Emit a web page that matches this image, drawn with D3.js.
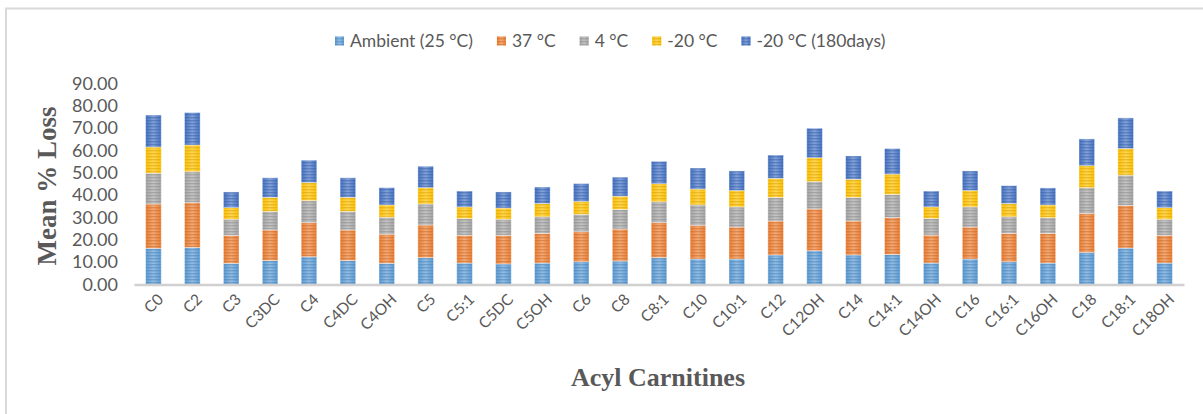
<!DOCTYPE html>
<html>
<head>
<meta charset="utf-8">
<script src="https://cdn.jsdelivr.net/npm/d3@7"></script>
<style>
  html, body { margin: 0; padding: 0; background: #fff; }
  svg { display: block; }
</style>
</head>
<body>
<svg id="chart" width="1203" height="414"></svg>
<script>
// Acyl carnitine names along the x axis
const categories = ["C0","C2","C3","C3DC","C4","C4DC","C4OH","C5","C5:1","C5DC","C5OH","C6","C8",
  "C8:1","C10","C10:1","C12","C12OH","C14","C14:1","C14OH","C16","C16:1","C16OH","C18","C18:1","C18OH"];

// Mean % loss for each storage condition (stacked)
const ambient25 = [16.2,16.6,9.5,10.7,12.4,10.7,9.5,12.0,9.6,9.2,9.6,10.2,10.5,
  12.0,11.4,11.4,13.2,15.1,13.2,13.4,9.6,11.4,10.2,9.6,14.4,16.3,9.6];
const warm37 = [19.8,20.0,12.5,13.7,15.3,13.7,13.0,14.6,12.4,12.8,13.3,13.4,14.3,
  15.7,15.1,14.3,15.2,18.7,15.2,16.5,12.5,14.3,12.7,13.3,17.4,19.1,12.4];
const cold4 = [13.8,13.9,7.2,8.3,9.8,8.3,7.6,9.4,7.5,7.2,7.4,7.8,8.8,
  9.3,9.1,9.0,10.6,12.2,10.6,10.4,7.4,9.0,7.4,7.0,11.5,13.5,7.2];
const frozen20 = [11.7,11.9,5.2,6.3,8.1,6.3,5.5,7.3,5.2,5.0,5.9,5.8,5.9,
  8.1,7.1,7.3,8.5,10.7,8.1,9.1,5.2,7.3,5.9,5.7,9.9,11.9,5.2];
const frozen20d180 = [14.3,14.5,7.0,8.7,10.0,8.7,7.7,9.6,7.1,7.2,7.4,7.9,8.5,
  10.0,9.4,8.8,10.4,13.2,10.4,11.4,7.1,8.8,8.0,7.6,11.9,13.7,7.4];

const seriesNames = ["Ambient (25 °C)","37 °C","4 °C","-20 °C","-20 °C (180days)"];
const seriesValues = [ambient25, warm37, cold4, frozen20, frozen20d180];
const seriesColors = ["#5B9BD5","#ED7D31","#A5A5A5","#FFC000","#4472C4"];

const yTicks = [0,10,20,30,40,50,60,70,80,90];

const svg = d3.select("#chart");
const W = 1203, H = 414;
const textGray = "#595959";

// Outer chart frame (top and left edges visible)
svg.append("path")
  .attr("d", `M6,${H} L6,8.5 L${W},8.5`)
  .attr("fill", "none").attr("stroke", "#d9d9d9").attr("stroke-width", 2);

// Striped fills: horizontal sheen gradient plus fine horizontal banding
const defs = svg.append("defs");
seriesColors.forEach((c, i) => {
  const base = d3.color(c);
  const light = d3.interpolateRgb(c, "#ffffff")(0.35);
  const g = defs.append("linearGradient").attr("id", "grad" + i)
    .attr("x1", "0%").attr("x2", "100%").attr("y1", "0%").attr("y2", "0%");
  g.append("stop").attr("offset", "0%").attr("stop-color", base.formatHex());
  g.append("stop").attr("offset", "50%").attr("stop-color", light);
  g.append("stop").attr("offset", "100%").attr("stop-color", base.formatHex());
  const p = defs.append("pattern").attr("id", "stripe" + i)
    .attr("patternUnits", "userSpaceOnUse").attr("width", 8).attr("height", 3);
  p.append("rect").attr("x", 0).attr("y", 0).attr("width", 8).attr("height", 1.4)
    .attr("fill", base.darker(0.5).formatHex()).attr("opacity", 0.5);
});

const x = d3.scaleBand().domain(categories).range([134, 1184])
  .paddingInner(0.6).paddingOuter(0.3);
const y = d3.scaleLinear().domain([0, 90]).range([284.5, 83.3]);

// Stack the five series per category
const rows = categories.map((c, i) => {
  const r = { cat: c };
  seriesNames.forEach((s, k) => r[s] = seriesValues[k][i]);
  return r;
});
const stacked = d3.stack().keys(seriesNames)(rows);

const layers = svg.append("g").selectAll("g").data(stacked).join("g");
layers.each(function(layer, k) {
  const g = d3.select(this);
  const segs = g.selectAll("g.seg").data(layer).join("g").attr("class", "seg");
  segs.append("rect")
    .attr("x", d => x(d.data.cat)).attr("width", x.bandwidth())
    .attr("y", d => y(d[1])).attr("height", d => y(d[0]) - y(d[1]))
    .attr("fill", `url(#grad${k})`);
  segs.append("rect")
    .attr("x", d => x(d.data.cat)).attr("width", x.bandwidth())
    .attr("y", d => y(d[1])).attr("height", d => y(d[0]) - y(d[1]))
    .attr("fill", `url(#stripe${k})`)
    .attr("stroke", "#ffffff").attr("stroke-opacity", 0.5).attr("stroke-width", 0.8);
});

// Category axis line
const xAxis = svg.append("g").attr("transform", `translate(0,${y(0)})`)
  .call(d3.axisBottom(x).tickSize(0).tickFormat(""));
xAxis.select(".domain").attr("stroke", "#d0d0d0").attr("stroke-width", 2.5);

// Rotated category labels
svg.append("g").selectAll("text").data(categories).join("text")
  .attr("transform", d => `translate(${x(d) + x.bandwidth() / 2 + 7},${y(0) + 12}) rotate(-45)`)
  .attr("text-anchor", "end")
  .attr("dy", "0.35em")
  .attr("font-family", "Lato, 'Open Sans', sans-serif")
  .attr("font-size", 15.5)
  .attr("fill", textGray)
  .text(d => d);

// Value axis labels (no axis line)
const yAxis = svg.append("g").attr("transform", "translate(118,0)")
  .call(d3.axisLeft(y).tickValues(yTicks).tickSize(0).tickPadding(0).tickFormat(d3.format(".2f")));
yAxis.select(".domain").remove();
yAxis.selectAll("text")
  .attr("font-family", "Lato, 'Open Sans', sans-serif")
  .attr("font-size", 18)
  .attr("fill", textGray);

// Axis titles
svg.append("text")
  .attr("transform", `translate(56,186) rotate(-90)`)
  .attr("text-anchor", "middle")
  .attr("font-family", "'Liberation Serif', 'Times New Roman', serif")
  .attr("font-weight", "bold").attr("font-size", 27)
  .attr("fill", textGray)
  .text("Mean % Loss");

svg.append("text")
  .attr("x", 658).attr("y", 386)
  .attr("text-anchor", "middle")
  .attr("font-family", "'Liberation Serif', 'Times New Roman', serif")
  .attr("font-weight", "bold").attr("font-size", 26)
  .attr("fill", textGray)
  .text("Acyl Carnitines");

// Legend
const legend = svg.append("g").attr("transform", "translate(335,41)");
let lx = 0;
seriesNames.forEach((name, k) => {
  const item = legend.append("g").attr("transform", `translate(${lx},0)`);
  item.append("rect").attr("x", 0).attr("y", -4.5).attr("width", 9).attr("height", 9)
    .attr("fill", `url(#grad${k})`);
  item.append("rect").attr("x", 0).attr("y", -4.5).attr("width", 9).attr("height", 9)
    .attr("fill", `url(#stripe${k})`);
  const t = item.append("text").attr("x", 15).attr("y", 0).attr("dy", "0.35em")
    .attr("font-family", "Lato, 'Open Sans', sans-serif")
    .attr("font-size", 17.5).attr("fill", textGray)
    .text(name);
  lx += 15 + t.node().getComputedTextLength() + 24;
});
</script>
</body>
</html>
